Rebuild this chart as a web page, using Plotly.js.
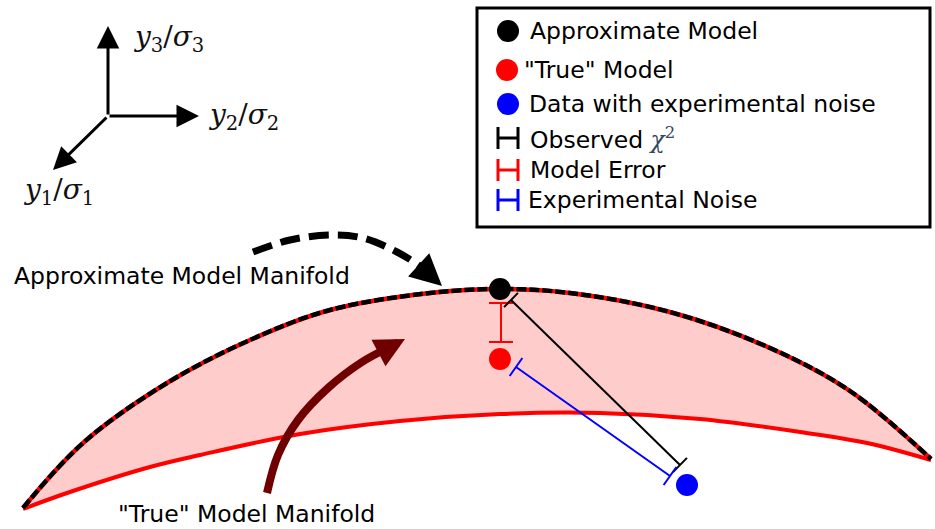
<!DOCTYPE html>
<html><head><meta charset="utf-8">
<script src="https://cdn.plot.ly/plotly-3.0.1.min.js"></script>
<style>html,body{margin:0;padding:0;background:#fff}#chart{width:935px;height:529px}</style>
</head><body><div id="chart"></div>
<script>
// Diagram coordinates (pixel space of a 935x529 canvas)
const approxX = [23, 83, 167, 250, 330, 430, 500, 570, 670, 770, 850, 931];
const approxY = [508, 443, 383, 340, 310, 293, 289, 293, 312, 348, 391, 459];
const trueX = [23, 67, 150, 200, 300, 400, 500, 600, 700, 800, 867, 931];
const trueY = [509, 493, 467, 455, 434, 421, 414, 413, 419, 432, 443, 460];

const pointX = [500, 500, 687];
const pointY = [289, 359, 485];
const pointColors = ['#000000', '#ff0000', '#0000ff'];

// error-bar style segments: [x0,y0,x1,y1]
const modelErrorSeg = [501, 303, 501, 342];
const chiSeg = [511, 300, 680, 465];
const noiseSeg = [516, 367, 670, 476];

// curved arrows
const dashArrowX = [253, 290, 330, 363, 397, 420];
const dashArrowY = [252, 240, 235, 238, 252, 266];
const dashArrowTip = [442, 286];
const trueArrowX = [267, 278, 298, 328, 362, 388];
const trueArrowY = [493, 455, 420, 388, 362, 348];
const trueArrowTip = [405, 339];

// axis triad
const triadOrigin = [108, 116];
const triadTips = [[108, 26], [199, 116], [53, 170]];
const triadLabels = ['<i>y</i><sub>3</sub>/<i>σ</i><sub>3</sub>', '<i>y</i><sub>2</sub>/<i>σ</i><sub>2</sub>', '<i>y</i><sub>1</sub>/<i>σ</i><sub>1</sub>'];
const triadLabelPos = [[131, 38], [206, 116], [21, 191]];

// legend
const legendBox = [477, 8, 930, 227];
const legendLabels = ['Approximate Model', '"True" Model', 'Data with experimental noise', 'Observed <i style="font-family:DejaVu Serif;color:#34495e">\u03C7</i><sup style="font-family:DejaVu Serif;color:#34495e">2</sup>', 'Model Error', 'Experimental Noise'];
const legendLabelX = [528, 522, 527, 528, 528, 526];
const legendRowY = [31, 70, 104, 138, 170, 200];
const legendDotX = [508, 507, 508];
const legendBarX = [498, 518];
const legendBarColors = ['#000000', '#ff0000', '#0000ff'];

const manifoldLabels = ['Approximate Model Manifold', '"True" Model Manifold'];
const manifoldLabelPos = [[12, 276], [116, 514]];

const traces = [];
// fill region
traces.push({x: approxX.concat(trueX.slice().reverse()), y: approxY.concat(trueY.slice().reverse()),
  mode: 'lines', fill: 'toself', fillcolor: 'rgba(255,0,0,0.2)', line: {width: 0, shape: 'spline'}, hoverinfo: 'skip'});
traces.push({x: trueX, y: trueY, mode: 'lines', line: {color: '#ff0000', width: 4, shape: 'spline'}});
traces.push({x: approxX, y: approxY, mode: 'lines', line: {color: '#ff0000', width: 4.5, shape: 'spline'}});
traces.push({x: approxX, y: approxY, mode: 'lines', line: {color: '#000000', width: 4.5, shape: 'spline', dash: '10px,3px'}});

function capped(seg, color, half, width) {
  const [x0, y0, x1, y1] = seg;
  const dx = x1 - x0, dy = y1 - y0, L = Math.hypot(dx, dy);
  const px = -dy / L * half, py = dx / L * half;
  traces.push({x: [x0, x1, null, x0 - px, x0 + px, null, x1 - px, x1 + px],
    y: [y0, y1, null, y0 - py, y0 + py, null, y1 - py, y1 + py],
    mode: 'lines', line: {color: color, width: width}, hoverinfo: 'skip'});
}
capped(modelErrorSeg, '#ff0000', 12, 2);
capped(chiSeg, '#000000', 10, 2);
capped(noiseSeg, '#0000ff', 11, 2);

traces.push({x: dashArrowX, y: dashArrowY, mode: 'lines', line: {color: '#000', width: 7, dash: '20px,9px', shape: 'spline'}});
traces.push({x: trueArrowX, y: trueArrowY, mode: 'lines', line: {color: '#700000', width: 8, shape: 'spline'}});

traces.push({x: pointX, y: pointY, mode: 'markers', marker: {size: 22, color: pointColors}});
// legend dots
traces.push({x: legendDotX, y: legendRowY.slice(0, 3), mode: 'markers', marker: {size: 22, color: pointColors}});
// legend H glyphs
for (let i = 0; i < 3; i++) {
  const yc = legendRowY[3 + i];
  traces.push({x: [legendBarX[0], legendBarX[0], null, legendBarX[0], legendBarX[1], null, legendBarX[1], legendBarX[1]],
    y: [yc - 11, yc + 11, null, yc, yc, null, yc - 11, yc + 11], mode: 'lines', line: {color: legendBarColors[i], width: 3}});
}

const annotations = [];
const shapes = [];
// triad arrows
triadTips.forEach(t => annotations.push({x: t[0], y: t[1], ax: triadOrigin[0], ay: triadOrigin[1], xref: 'x', yref: 'y', axref: 'x', ayref: 'y',
  showarrow: true, arrowhead: 2, arrowsize: 1.5, arrowwidth: 3, arrowcolor: '#000', text: ''}));
triadLabels.forEach((t, i) => annotations.push({x: triadLabelPos[i][0], y: triadLabelPos[i][1], xref: 'x', yref: 'y', text: t, showarrow: false,
  xanchor: 'left', yanchor: 'middle', font: {family: 'DejaVu Serif', size: 28, color: '#111'}}));
// arrow heads of curved arrows
annotations.push({x: dashArrowTip[0], y: dashArrowTip[1], ax: dashArrowX[dashArrowX.length - 1], ay: dashArrowY[dashArrowY.length - 1], xref: 'x', yref: 'y', axref: 'x', ayref: 'y',
  showarrow: true, arrowhead: 2, arrowsize: 0.9, arrowwidth: 7, arrowcolor: '#000', text: ''});
annotations.push({x: trueArrowTip[0], y: trueArrowTip[1], ax: trueArrowX[trueArrowX.length - 1], ay: trueArrowY[trueArrowY.length - 1], xref: 'x', yref: 'y', axref: 'x', ayref: 'y',
  showarrow: true, arrowhead: 2, arrowsize: 0.75, arrowwidth: 8, arrowcolor: '#700000', text: ''});
manifoldLabels.forEach((t, i) => annotations.push({x: manifoldLabelPos[i][0], y: manifoldLabelPos[i][1], xref: 'x', yref: 'y', text: t, showarrow: false,
  xanchor: 'left', yanchor: 'middle', font: {family: 'DejaVu Sans', size: 23.5, color: '#000'}}));
legendLabels.forEach((t, i) => annotations.push({x: legendLabelX[i], y: legendRowY[i], xref: 'x', yref: 'y', text: t, showarrow: false,
  xanchor: 'left', yanchor: 'middle', font: {family: 'DejaVu Sans', size: 23.5, color: '#000'}}));
shapes.push({type: 'rect', xref: 'x', yref: 'y', x0: legendBox[0], y0: legendBox[1], x1: legendBox[2], y1: legendBox[3], line: {color: '#000', width: 3}});

const layout = {
  width: 935, height: 529, margin: {l: 0, r: 0, t: 0, b: 0},
  paper_bgcolor: '#fff', plot_bgcolor: '#fff', showlegend: false,
  xaxis: {range: [0, 935], visible: false, fixedrange: true},
  yaxis: {range: [529, 0], visible: false, fixedrange: true},
  annotations: annotations, shapes: shapes
};
Plotly.newPlot('chart', traces, layout, {staticPlot: true});
</script></body></html>
